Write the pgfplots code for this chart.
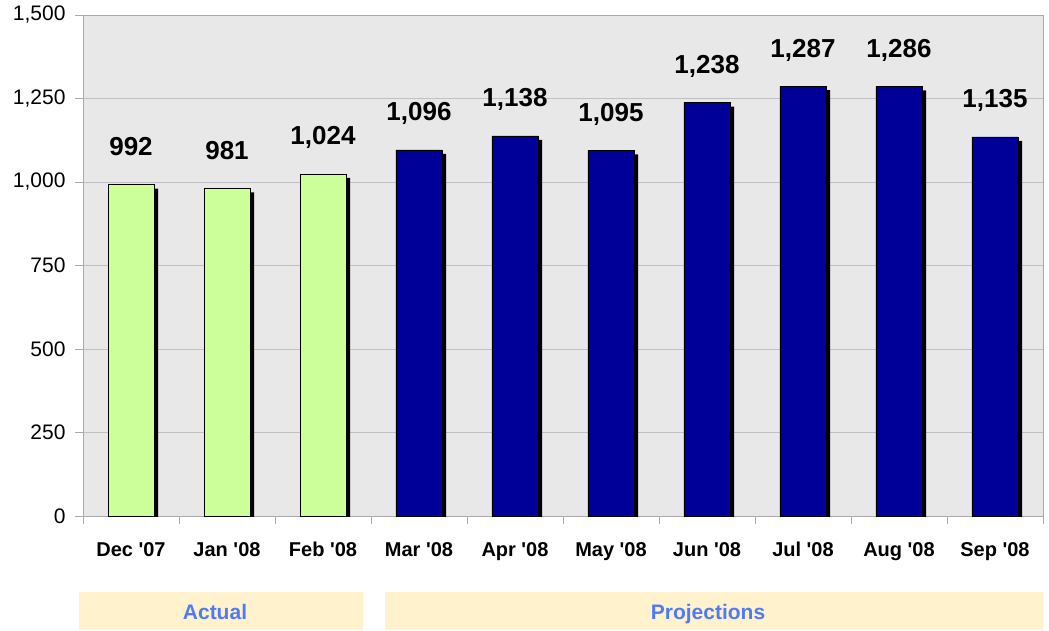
\documentclass[border=0pt]{standalone}
\usepackage{fontspec}
\setmainfont{Liberation Sans}
\usepackage{pgfplots}
\pgfplotsset{compat=1.18}
\definecolor{plotbg}{RGB}{232,232,232}
\definecolor{gridc}{RGB}{192,192,192}
\definecolor{axisc}{RGB}{170,170,170}
\definecolor{lgreen}{RGB}{204,255,153}
\definecolor{navy}{RGB}{0,0,153}
\definecolor{boxc}{RGB}{255,242,204}
\definecolor{boxtext}{RGB}{79,123,245}
\newcommand{\q}{\textquotesingle}
\begin{document}
\begin{tikzpicture}
\useasboundingbox (0,0) rectangle (1049pt,630pt);
\begin{axis}[
  at={(83pt,114pt)}, anchor=south west,
  scale only axis, width=960pt, height=501pt,
  xmin=-0.5, xmax=9.5, ymin=0, ymax=1500,
  ytick={0,250,...,1500},
  xtick={0,...,9},
  xticklabels={Dec \q07, Jan \q08, Feb \q08, Mar \q08, Apr \q08, May \q08, Jun \q08, Jul \q08, Aug \q08, Sep \q08},
  xtick style={draw=none},
  extra x ticks={-0.5,0.5,...,9.5},
  extra x tick labels={},
  extra x tick style={xtick style={draw=axisc, line width=0.8pt}, grid=none},
  tick align=outside, tick pos=left,
  major tick length=8pt,
  ytick style={axisc, line width=0.8pt},
  axis line style={axisc, line width=0.8pt},
  axis background/.style={fill=plotbg},
  ymajorgrids, grid style={gridc, line width=0.8pt},
  /pgf/number format/1000 sep={,},
  /pgf/number format/assume math mode=true,
  yticklabel style={font=\fontsize{21}{25}\selectfont, xshift=-6pt},
  xticklabel style={font=\bfseries\fontsize{20}{24}\selectfont, text height=14.6pt, text depth=4pt, yshift=-14pt},
  ybar, bar width=0.48,
  nodes near coords,
  every node near coord/.append style={font=\bfseries\fontsize{26}{30}\selectfont, anchor=base, yshift=29pt, text=black},
]
\addplot[fill=black, draw=none, bar shift=4pt, yshift=-4pt, nodes near coords=\empty] coordinates {
(0,992) (1,981) (2,1024) (3,1096) (4,1138) (5,1095) (6,1238) (7,1287) (8,1286) (9,1135)};
\addplot[fill=lgreen, draw=black, line width=0.8pt, bar shift=0pt] coordinates {
(0,992) (1,981) (2,1024)};
\addplot[fill=navy, draw=black, line width=0.8pt, bar shift=0pt] coordinates {
(3,1096) (4,1138) (5,1095) (6,1238) (7,1287) (8,1286) (9,1135)};
\end{axis}
\fill[boxc] (79pt,0pt) rectangle (363pt,38pt);
\fill[boxc] (385pt,0pt) rectangle (1043pt,38pt);
\node[font=\bfseries\fontsize{21}{25}\selectfont, text=boxtext, anchor=base] at (215pt,11pt) {Actual};
\node[font=\bfseries\fontsize{21}{25}\selectfont, text=boxtext, anchor=base] at (708pt,11pt) {Projections};
\end{tikzpicture}
\end{document}
